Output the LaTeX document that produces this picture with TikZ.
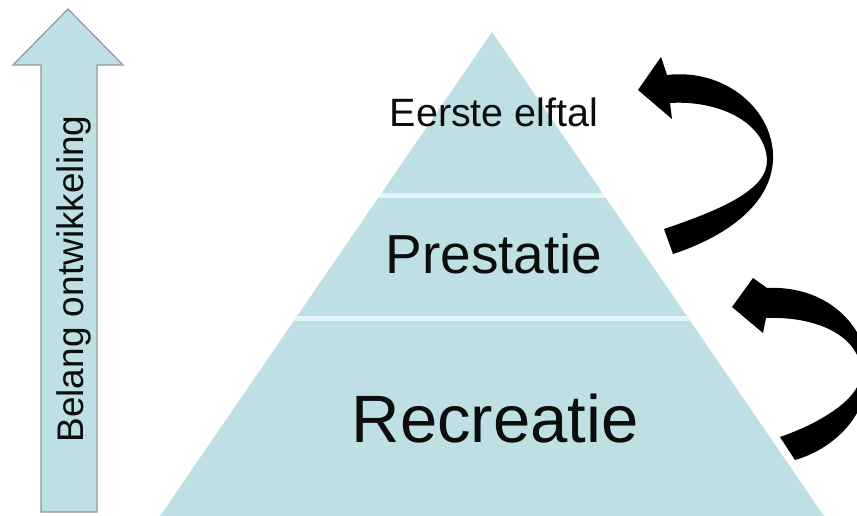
\documentclass[tikz,border=0pt]{standalone}
\usepackage{fontspec}
\setmainfont{Liberation Sans}
\definecolor{pyrblue}{RGB}{190,224,228}
\definecolor{gapblue}{RGB}{226,246,248}
\definecolor{edgegray}{RGB}{140,152,158}

\begin{document}
\begin{tikzpicture}[x=1pt, y=-1pt,
    level/.style={anchor=base, text=black!95},
    swoosh/.style={fill=black}]

          \useasboundingbox (0,0) rectangle (857,516);

          \draw[fill=pyrblue, draw=edgegray, line width=1.2pt]
            (41,512) -- (41,65) -- (13,65) -- (68,9) -- (123,65) -- (97,65) -- (97,512) -- cycle;
          \node[level, rotate=90, font=\fontsize{37}{40}\selectfont] (belang) at (83,279) {Belang ontwikkeling};

          \begin{scope}
            \clip (160,516) -- (492,32) -- (824,516) -- cycle;
            \fill[pyrblue] (0,0) rectangle (857,516);
            \draw[gapblue, line width=5pt] (0,195) -- (857,195) (0,318) -- (857,318);
          \end{scope}

          \node[level, font=\fontsize{39.5}{42}\selectfont] (eerste) at (494,127) {Eerste elftal};
          \node[level, font=\fontsize{55}{58}\selectfont] (prestatie) at (494,273) {Prestatie};
          \node[level, font=\fontsize{67}{70}\selectfont] (recreatie) at (495,442) {Recreatie};

          \fill[swoosh] (667,75) .. controls (725,68) and (775,110) .. (773,160)
            .. controls (771,205) and (725,237) .. (673,254) -- (664,229)
            .. controls (720,210) and (768,190) .. (767,160)
            .. controls (765,120) and (715,100) .. (670,103)
            -- (672,119) -- (638,90) -- (661,57) -- cycle;

          \fill[swoosh] (767,288) .. controls (830,285) and (870,330) .. (868,375)
            .. controls (866,420) and (830,450) .. (795,460) -- (780,437)
            .. controls (815,425) and (862,400) .. (861,372)
            .. controls (860,335) and (815,316) .. (766,318)
            -- (763,333) -- (732,307) -- (753,278) -- cycle;
        \end{tikzpicture}
\end{document}
